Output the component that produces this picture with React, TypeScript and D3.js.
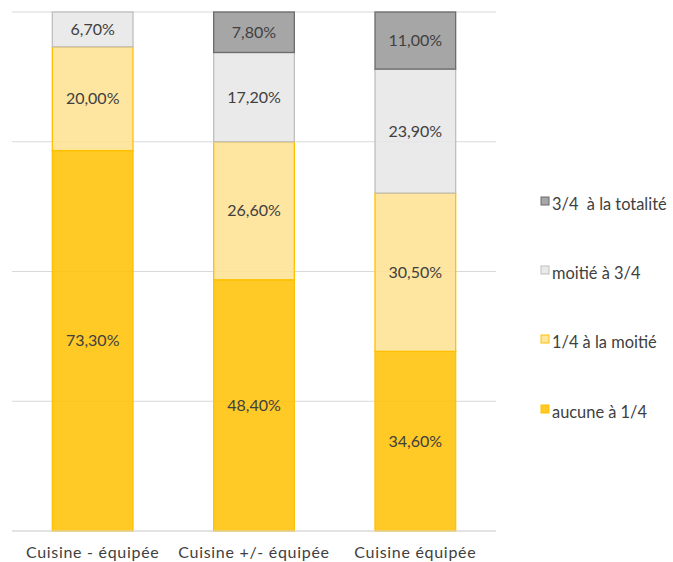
import React, { useRef, useEffect } from 'react';
import * as d3 from 'd3';

const categories = ['Cuisine - équipée', 'Cuisine +/- équipée', 'Cuisine équipée'];
const seriesNames = ['aucune à 1/4', '1/4 à la moitié', 'moitié à 3/4', '3/4  à la totalité'];
const aucune = [0.733, 0.484, 0.346];
const quartMoitie = [0.2, 0.266, 0.305];
const moitieTroisQuarts = [0.067, 0.172, 0.239];
const totalite = [0, 0.078, 0.11];
const yTicks = [0, 0.25, 0.5, 0.75, 1];

const fills = ['#FFC000', '#FEE18F', '#E6E6E6', '#969696'];
const strokes = ['#FFC000', '#FFC000', '#BFBFBF', '#6B6B6B'];

const fmt = (v: number) => (v * 100).toFixed(2).replace('.', ',') + '%';

export default function App() {
  const svgRef = useRef<SVGSVGElement>(null);

  useEffect(() => {
    if (!svgRef.current) return;
    const width = 673;
    const height = 562;
    const svg = d3.select(svgRef.current);
    svg.selectAll('*').remove();

    const plot = { left: 12, right: 496, top: 12, bottom: 531 };
    const font = 'Lato, "Open Sans", sans-serif';

    const x = d3.scaleBand<string>()
      .domain(categories)
      .range([plot.left, plot.right])
      .paddingInner(0.5)
      .paddingOuter(0.25);

    const y = d3.scaleLinear().domain([0, 1]).range([plot.bottom, plot.top]);

    // gridlines
    svg.append('g')
      .selectAll('line')
      .data(yTicks)
      .enter()
      .append('line')
      .attr('x1', plot.left)
      .attr('x2', plot.right)
      .attr('y1', d => y(d))
      .attr('y2', d => y(d))
      .attr('stroke', '#D9D9D9')
      .attr('stroke-width', 1);

    const table = categories.map((c, i) => ({
      cat: c,
      s0: aucune[i],
      s1: quartMoitie[i],
      s2: moitieTroisQuarts[i],
      s3: totalite[i],
    }));
    const stack = d3.stack<any>().keys(['s0', 's1', 's2', 's3'])(table);

    stack.forEach((layer, si) => {
      const g = svg.append('g');
      layer.forEach(seg => {
        const v = seg[1] - seg[0];
        if (v <= 0) return;
        const cat = seg.data.cat;
        g.append('rect')
          .attr('x', x(cat)!)
          .attr('width', x.bandwidth())
          .attr('y', y(seg[1]))
          .attr('height', y(seg[0]) - y(seg[1]))
          .attr('fill', fills[si])
          .attr('fill-opacity', 0.85)
          .attr('stroke', strokes[si])
          .attr('stroke-width', 1.3);
        g.append('text')
          .attr('x', x(cat)! + x.bandwidth() / 2)
          .attr('y', (y(seg[0]) + y(seg[1])) / 2)
          .attr('dy', '0.35em')
          .attr('text-anchor', 'middle')
          .style('font-family', font)
          .style('font-size', '16px')
          .style('fill', '#404040')
          .text(fmt(v));
      });
    });

    // category axis
    svg.append('line')
      .attr('x1', plot.left)
      .attr('x2', plot.right)
      .attr('y1', plot.bottom)
      .attr('y2', plot.bottom)
      .attr('stroke', '#D9D9D9');

    svg.append('g')
      .selectAll('text')
      .data(categories)
      .enter()
      .append('text')
      .attr('x', d => x(d)! + x.bandwidth() / 2)
      .attr('y', 552)
      .attr('dy', '0.35em')
      .attr('text-anchor', 'middle')
      .style('font-family', font)
      .style('font-size', '16px')
      .style('letter-spacing', '0.7px')
      .style('fill', '#404040')
      .text(d => d);

    // legend (top to bottom: reversed order)
    const legendY = [201, 270, 339, 409];
    const legendOrder = [3, 2, 1, 0];
    legendOrder.forEach((si, i) => {
      const g = svg.append('g').attr('transform', `translate(541, ${legendY[i]})`);
      g.append('rect')
        .attr('x', 0)
        .attr('y', -4)
        .attr('width', 8)
        .attr('height', 8)
        .attr('fill', fills[si])
        .attr('fill-opacity', 0.85)
        .attr('stroke', strokes[si]);
      g.append('text')
        .attr('x', 11)
        .attr('y', 3)
        .attr('dy', '0.35em')
        .style('font-family', font)
        .style('font-size', '16.4px')
        .style('fill', '#404040')
        .style('white-space', 'pre')
        .text(seriesNames[si]);
    });

    svg.attr('width', width).attr('height', height);
  }, []);

  return (
    <svg
      ref={svgRef}
      width={673}
      height={562}
      style={{ position: 'absolute', left: 0, top: 0, background: '#fff' }}
    />
  );
}
